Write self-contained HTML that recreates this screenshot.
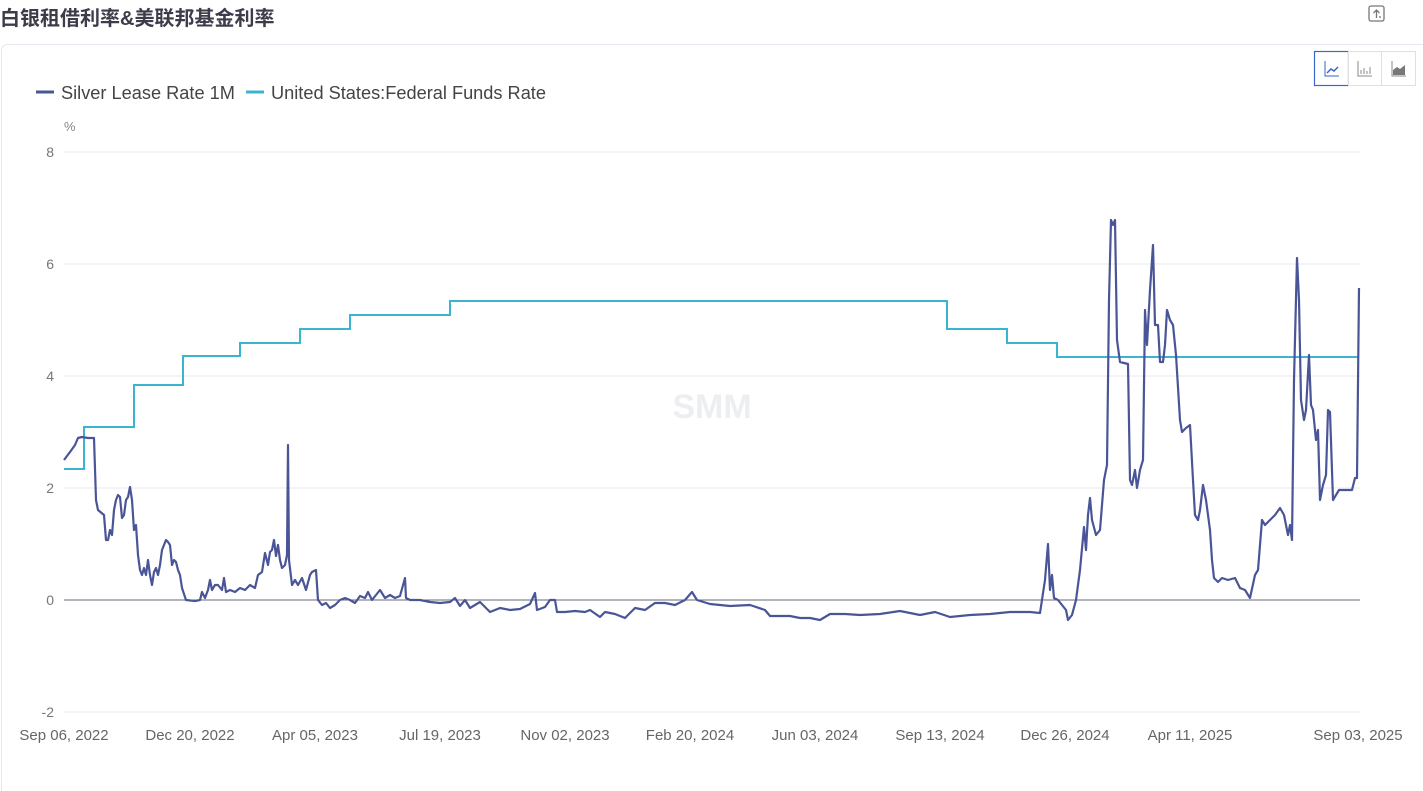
<!DOCTYPE html>
<html><head><meta charset="utf-8"><style>
body{margin:0;background:#fff;font-family:"Liberation Sans","Noto Sans CJK SC",sans-serif;}
</style></head><body>
<svg width="1423" height="791" xmlns="http://www.w3.org/2000/svg" style="position:absolute;left:0;top:0">
<text x="0" y="25" font-size="20" font-weight="bold" fill="#3c3c4a" font-family="Liberation Sans,Noto Sans CJK SC,sans-serif">白银租借利率&amp;美联邦基金利率</text>
<rect x="1369" y="6" width="15" height="15" rx="2" fill="none" stroke="#777" stroke-width="1.3"/>
<path d="M1376.5 18V10M1373.5 13l3-3 3 3M1380 16v2" stroke="#777" fill="none" stroke-width="1.3"/>
<rect x="1.5" y="44.5" width="1430" height="760" rx="6" fill="none" stroke="#e6e8f0"/>
<rect x="1314.5" y="51.5" width="34" height="34" fill="#fff" stroke="#3a66c6" stroke-width="1.2"/>
<rect x="1348.5" y="51.5" width="33" height="34" fill="#fff" stroke="#e0e0e0"/>
<rect x="1381.5" y="51.5" width="34" height="34" fill="#fff" stroke="#e0e0e0"/>
<path d="M1325 61v15h14" stroke="#3a66c6" fill="none"/><path d="M1327 73l4-4 3 2 4-4" stroke="#3a66c6" fill="none" stroke-width="1.5"/>
<path d="M1358 61v15h14M1361 74v-4M1364 74v-6M1367 74v-3M1370 74v-7" stroke="#888" fill="none"/>
<path d="M1392 61v15h14" stroke="#888" fill="none"/><path d="M1393 75v-5l4-3 3 2 5-4v10z" fill="#777"/>
<line x1="36" y1="92" x2="54" y2="92" stroke="#4a5597" stroke-width="3"/>
<text x="61" y="99" font-size="18.2" fill="#444">Silver Lease Rate 1M</text>
<line x1="246" y1="92" x2="264" y2="92" stroke="#3bb5cf" stroke-width="3"/>
<text x="271" y="99" font-size="18.2" fill="#444">United States:Federal Funds Rate</text>
<text x="64" y="131" font-size="13" fill="#888">%</text>
<g stroke="#e8eaf2" stroke-width="1">
<line x1="64" y1="152" x2="1360" y2="152"/><line x1="64" y1="264" x2="1360" y2="264"/><line x1="64" y1="376" x2="1360" y2="376"/><line x1="64" y1="488" x2="1360" y2="488"/><line x1="64" y1="712" x2="1360" y2="712"/>
</g>
<line x1="64" y1="600" x2="1360" y2="600" stroke="#666a7a"/>
<g font-size="14" fill="#777" text-anchor="end">
<text x="54" y="157">8</text><text x="54" y="269">6</text><text x="54" y="381">4</text><text x="54" y="493">2</text><text x="54" y="605">0</text><text x="54" y="717">-2</text>
</g>
<g font-size="15" fill="#666" text-anchor="middle">
<text x="64" y="740">Sep 06, 2022</text><text x="190" y="740">Dec 20, 2022</text><text x="315" y="740">Apr 05, 2023</text><text x="440" y="740">Jul 19, 2023</text><text x="565" y="740">Nov 02, 2023</text><text x="690" y="740">Feb 20, 2024</text><text x="815" y="740">Jun 03, 2024</text><text x="940" y="740">Sep 13, 2024</text><text x="1065" y="740">Dec 26, 2024</text><text x="1190" y="740">Apr 11, 2025</text><text x="1358" y="740">Sep 03, 2025</text>
</g>
<text x="712" y="418" font-size="34" font-weight="bold" fill="#eceef2" text-anchor="middle">SMM</text>
<polyline fill="none" stroke="#3bb5cf" stroke-width="2" points="64,469 84,469 84,427 134,427 134,385 183,385 183,356 240,356 240,343 300,343 300,329 350,329 350,315 450,315 450,301 947,301 947,329 1007,329 1007,343 1057,343 1057,357 1358,357"/>
<polyline fill="none" stroke="#4a5597" stroke-width="2.2" stroke-linejoin="round" points="64,460 70,452 75,445 78,438 82,437 88,438 94,438 96,500 98,510 104,515 106,540 108,540 110,530 112,535 114,510 116,500 118,495 120,497 122,518 124,515 126,500 128,497 130,487 132,500 134,530 136,525 138,555 140,570 142,575 144,568 146,575 148,560 150,575 152,585 154,572 156,568 158,575 160,565 162,550 164,545 166,540 168,542 170,545 172,565 174,560 176,562 178,570 180,575 182,588 186,600 195,601 200,600 202,592 205,598 208,590 210,580 212,590 215,585 218,585 222,590 224,578 226,592 230,590 235,592 240,588 245,590 250,585 255,588 258,575 262,572 265,553 268,565 270,552 272,550 274,540 276,556 278,545 280,560 282,568 285,565 287,555 288,445 289,560 292,585 295,580 298,585 302,578 306,590 310,575 312,572 316,570 318,600 322,605 326,603 330,608 335,605 340,600 345,598 350,600 355,603 360,596 365,598 368,592 372,600 376,595 380,590 385,598 390,595 395,598 400,596 405,578 406,598 410,600 420,600 430,602 440,603 450,602 455,598 460,606 465,600 470,608 480,602 490,612 500,608 510,610 520,609 530,604 535,593 537,610 545,607 550,600 555,600 557,612 565,612 575,611 585,612 590,610 600,617 605,612 615,614 625,618 635,608 645,610 655,603 665,603 675,605 685,600 692,592 697,600 710,604 730,606 750,605 765,610 770,616 790,616 800,618 810,618 820,620 830,614 845,614 860,615 880,614 900,611 920,615 935,612 950,617 970,615 990,614 1010,612 1030,612 1040,613 1045,580 1048,544 1050,590 1052,575 1054,598 1058,600 1062,605 1066,610 1068,620 1072,615 1076,600 1080,570 1084,527 1086,550 1088,515 1090,498 1092,520 1096,535 1100,530 1104,480 1107,465 1109,300 1111,220 1113,225 1115,220 1117,340 1120,362 1128,364 1130,480 1132,485 1135,470 1137,488 1140,470 1143,460 1145,310 1147,345 1150,290 1153,245 1155,325 1158,325 1160,362 1163,362 1165,345 1167,310 1170,320 1173,325 1176,355 1180,420 1182,432 1186,428 1190,425 1193,480 1195,515 1198,520 1200,510 1203,485 1206,500 1210,530 1212,560 1214,578 1218,582 1222,578 1228,580 1235,578 1240,588 1245,590 1250,598 1255,575 1258,570 1262,520 1265,525 1270,520 1275,515 1280,508 1284,515 1288,535 1290,525 1292,540 1294,380 1297,258 1299,300 1301,400 1304,420 1306,410 1309,355 1311,405 1313,410 1316,440 1318,430 1320,500 1323,485 1326,475 1328,410 1330,412 1333,500 1336,495 1339,490 1341,490 1345,490 1352,490 1355,478 1357,478 1359,288"/>
</svg>
</body></html>
